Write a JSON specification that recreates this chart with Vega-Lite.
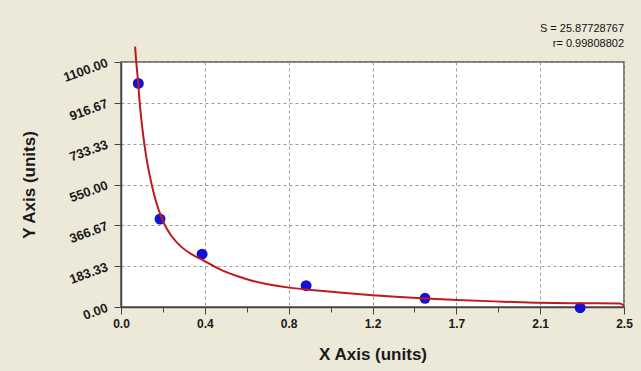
{
  "$schema": "https://vega.github.io/schema/vega-lite/v6.json",
  "autosize": "none",
  "width": 503,
  "height": 245,
  "padding": {"left": 121, "top": 62, "right": 17, "bottom": 64},
  "background": "#ECE9D8",
  "title": {
    "text": "S = 25.87728767",
    "subtitle": "r= 0.99808802",
    "anchor": "end",
    "frame": "group",
    "font": "Liberation Sans, Arial, sans-serif",
    "fontSize": 11,
    "fontWeight": "normal",
    "color": "#111111",
    "subtitleFont": "Liberation Sans, Arial, sans-serif",
    "subtitleFontSize": 11,
    "subtitleColor": "#111111",
    "subtitlePadding": 4,
    "offset": -6
  },
  "config": {
    "view": {"stroke": "#555555", "strokeWidth": 1.5, "fill": "#ffffff"},
    "axis": {
      "labelFont": "Liberation Sans, Arial, sans-serif",
      "titleFont": "Liberation Sans, Arial, sans-serif",
      "labelFontWeight": "bold",
      "labelColor": "#1a1a1a",
      "titleColor": "#1a1a1a",
      "domainColor": "#444444",
      "domainWidth": 1.5,
      "tickColor": "#444444",
      "gridColor": "#9a9a9a",
      "gridDash": [3, 3],
      "gridWidth": 1,
      "labelOverlap": false,
      "labelFlush": false
    }
  },
  "datasets": {
    "points": [
      {"x": 0.086, "y": 1004},
      {"x": 0.194, "y": 395},
      {"x": 0.403, "y": 237},
      {"x": 0.92, "y": 96},
      {"x": 1.511, "y": 39},
      {"x": 2.282, "y": -3}
    ],
    "curve": [
      {"x": 0.070, "y": 1169},
      {"x": 0.074, "y": 1120},
      {"x": 0.080, "y": 1060},
      {"x": 0.086, "y": 1000},
      {"x": 0.091, "y": 938},
      {"x": 0.100, "y": 852},
      {"x": 0.111, "y": 766},
      {"x": 0.125, "y": 677},
      {"x": 0.140, "y": 602},
      {"x": 0.153, "y": 548},
      {"x": 0.175, "y": 470},
      {"x": 0.200, "y": 405},
      {"x": 0.219, "y": 366},
      {"x": 0.250, "y": 320},
      {"x": 0.300, "y": 270},
      {"x": 0.350, "y": 237},
      {"x": 0.400, "y": 214},
      {"x": 0.490, "y": 170},
      {"x": 0.580, "y": 138},
      {"x": 0.660, "y": 116},
      {"x": 0.750, "y": 99},
      {"x": 0.835, "y": 87},
      {"x": 0.990, "y": 73},
      {"x": 1.100, "y": 64},
      {"x": 1.250, "y": 53},
      {"x": 1.490, "y": 39},
      {"x": 1.670, "y": 31},
      {"x": 1.900, "y": 24},
      {"x": 2.080, "y": 19},
      {"x": 2.300, "y": 17},
      {"x": 2.480, "y": 16},
      {"x": 2.500, "y": 6}
    ]
  },
  "layer": [
    {
      "data": {"name": "points"},
      "mark": {"type": "circle", "size": 120, "color": "#1212D6", "opacity": 1, "clip": false},
      "encoding": {
        "x": {
          "field": "x", "type": "quantitative",
          "scale": {"domain": [0, 2.5], "nice": false, "zero": false},
          "axis": {
            "title": "X Axis (units)",
            "titleFontSize": 17,
            "titleFontWeight": "bold",
            "titleY": 39,
            "labelFontSize": 12,
            "labelPadding": 4,
            "values": [0, 0.10416667, 0.20833333, 0.3125, 0.41666667, 0.52083333, 0.625, 0.72916667, 0.83333333, 0.9375, 1.04166667, 1.14583333, 1.25, 1.35416667, 1.45833333, 1.5625, 1.66666667, 1.77083333, 1.875, 1.97916667, 2.08333333, 2.1875, 2.29166667, 2.39583333, 2.5],
            "labelExpr": "abs(datum.value/0.41666667 - round(datum.value/0.41666667)) < 0.01 ? (abs(datum.value - 1.25) < 0.001 ? '1.2' : format(datum.value, '.1f')) : ''",
            "tickSize": {"condition": {"test": "abs(datum.value/0.41666667 - round(datum.value/0.41666667)) < 0.01", "value": 7}, "value": 5},
            "gridOpacity": {"condition": {"test": "abs(datum.value/0.41666667 - round(datum.value/0.41666667)) < 0.01", "value": 1}, "value": 0}
          }
        },
        "y": {
          "field": "y", "type": "quantitative",
          "scale": {"domain": [0, 1100], "nice": false, "zero": false},
          "axis": {
            "title": "Y Axis (units)",
            "titleFontSize": 17,
            "titleFontWeight": "bold",
            "titleX": -83,
            "labelFontSize": 13,
            "labelAngle": -20,
            "labelAlign": "right",
            "labelBaseline": "middle",
            "labelPadding": 7,
            "values": [0, 45.8333333, 91.6666667, 137.5, 183.3333333, 229.1666667, 275, 320.8333333, 366.6666667, 412.5, 458.3333333, 504.1666667, 550, 595.8333333, 641.6666667, 687.5, 733.3333333, 779.1666667, 825, 870.8333333, 916.6666667, 962.5, 1008.3333333, 1054.1666667, 1100],
            "labelExpr": "abs(datum.value/183.33333333 - round(datum.value/183.33333333)) < 0.01 ? format(datum.value, '.2f') : ''",
            "tickSize": {"condition": {"test": "abs(datum.value/183.33333333 - round(datum.value/183.33333333)) < 0.01", "value": 7}, "value": 5},
            "gridOpacity": {"condition": {"test": "abs(datum.value/183.33333333 - round(datum.value/183.33333333)) < 0.01", "value": 1}, "value": 0}
          }
        }
      }
    },
    {
      "data": {"name": "curve"},
      "mark": {"type": "line", "color": "#BE1A1E", "strokeWidth": 2, "clip": false, "interpolate": "monotone"},
      "encoding": {
        "x": {"field": "x", "type": "quantitative"},
        "y": {"field": "y", "type": "quantitative"}
      }
    }
  ]
}
